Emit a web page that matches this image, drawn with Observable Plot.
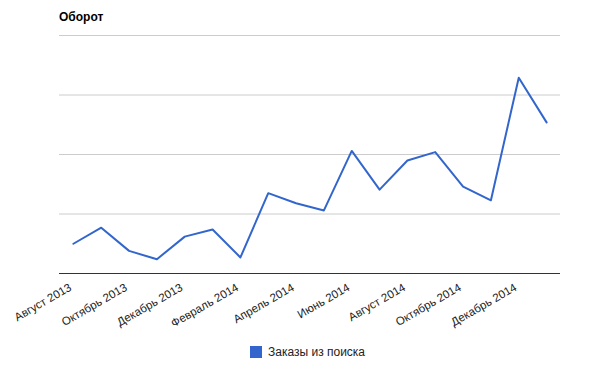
<!DOCTYPE html>
<html><head><meta charset="utf-8">
<script src="https://cdn.jsdelivr.net/npm/d3@7"></script>
<script src="https://cdn.jsdelivr.net/npm/@observablehq/plot@0.6"></script>
<style>
body{margin:0;background:#fff;font-family:Arial,"Liberation Sans",sans-serif}
#wrap{width:600px;height:371px;position:relative;overflow:hidden}
#title{position:absolute;left:59px;top:10px;font-size:12px;font-weight:bold;color:#000}
#chart{position:absolute;left:0;top:28px}
#legend{position:absolute;left:250px;top:345px;font-size:12px;color:#222;display:flex;align-items:center}
#legend .sw{width:12px;height:12px;background:#3366cc;margin-right:6px}
</style>
</head><body>
<div id="wrap">
  <div id="title">Оборот</div>
  <div id="chart"></div>
  <div id="legend"><span class="sw"></span><span id="legtext"></span></div>
</div>
<script>
const months = ["Август 2013","Сентябрь 2013","Октябрь 2013","Ноябрь 2013","Декабрь 2013","Январь 2014","Февраль 2014","Март 2014","Апрель 2014","Май 2014","Июнь 2014","Июль 2014","Август 2014","Сентябрь 2014","Октябрь 2014","Ноябрь 2014","Декабрь 2014","Январь 2015"];
const values = [0.50,0.77,0.38,0.24,0.62,0.74,0.27,1.35,1.18,1.06,2.06,1.41,1.90,2.04,1.46,1.23,3.29,2.54];
const tickLabels = ["Август 2013","Октябрь 2013","Декабрь 2013","Февраль 2014","Апрель 2014","Июнь 2014","Август 2014","Октябрь 2014","Декабрь 2014"];
const gridValues = [1,2,3,4];
const seriesName = "Заказы из поиска";

const data = months.map((m,i)=>({month:m, value:values[i]}));
document.getElementById("legtext").textContent = seriesName;

const chart = Plot.plot({
  width: 600,
  height: 310,
  marginLeft: 59,
  marginRight: 40,
  marginTop: 7,
  marginBottom: 65,
  style: {fontFamily: "Arial, 'Liberation Sans', sans-serif", fontSize: "11.5px", color: "#222", background: "transparent", overflow: "visible"},
  x: {type: "point", domain: months, padding: 0.5, round: false, label: null},
  y: {domain: [0,4], axis: null},
  marks: [
    Plot.ruleY(gridValues, {stroke: "#ccc", strokeWidth: 1}),
    Plot.ruleY([0], {stroke: "#333", strokeWidth: 1}),
    Plot.line(data, {x: "month", y: "value", stroke: "#3366cc", strokeWidth: 2}),
    Plot.axisX(tickLabels, {tickRotate: -30, tickSize: 0, tickPadding: 12, dx: -3, dy: 1, fill: "#222", fontSize: 11.5, label: null})
  ]
});
document.getElementById("chart").appendChild(chart);
</script>
</body></html>
